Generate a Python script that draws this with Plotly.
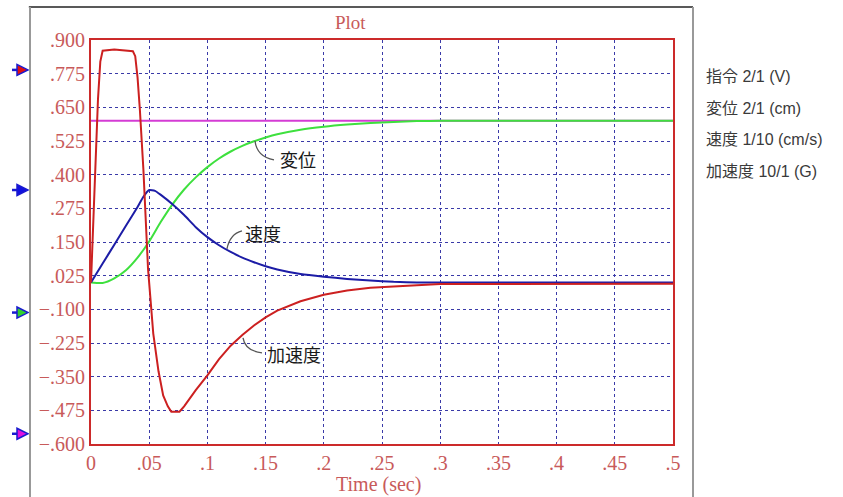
import plotly.graph_objects as go

# ---- data ----
t_cmd = [0.0, 0.5]
cmd = [0.6, 0.6]

t_disp = [0, 0.01, 0.02, 0.03, 0.04, 0.05, 0.06, 0.07, 0.08, 0.09, 0.10, 0.11, 0.12,
          0.13, 0.14, 0.15, 0.16, 0.18, 0.20, 0.22, 0.24, 0.26, 0.28, 0.30, 0.5]
disp = [0, -0.002, 0.015, 0.045, 0.092, 0.152, 0.225, 0.29, 0.345, 0.39, 0.428, 0.46, 0.486,
        0.507, 0.524, 0.538, 0.55, 0.567, 0.578, 0.586, 0.592, 0.596, 0.599, 0.6, 0.6]

t_vel = [0, 0.01, 0.02, 0.03, 0.04, 0.045, 0.05, 0.055, 0.06, 0.07, 0.08, 0.09, 0.10, 0.11,
         0.12, 0.13, 0.14, 0.15, 0.16, 0.18, 0.20, 0.22, 0.24, 0.26, 0.28, 0.5]
vel = [0, 0.07, 0.14, 0.21, 0.28, 0.318, 0.343, 0.34, 0.325, 0.29, 0.25, 0.205, 0.168, 0.138,
       0.113, 0.092, 0.075, 0.06, 0.048, 0.031, 0.021, 0.013, 0.007, 0.002, 0.0, 0.0]

t_acc = [0, 0.002, 0.004, 0.006, 0.008, 0.01, 0.02, 0.03, 0.036, 0.038, 0.04, 0.042, 0.045,
         0.049, 0.0535, 0.058, 0.062, 0.066, 0.069, 0.076, 0.08, 0.09, 0.10, 0.11, 0.12, 0.13,
         0.14, 0.15, 0.16, 0.18, 0.20, 0.22, 0.24, 0.26, 0.28, 0.30, 0.5]
acc = [0, 0.25, 0.5, 0.68, 0.82, 0.86, 0.865, 0.862, 0.858, 0.84, 0.76, 0.64, 0.42,
       0.05, -0.19, -0.33, -0.42, -0.46, -0.48, -0.48, -0.46, -0.40, -0.345, -0.285, -0.235, -0.195,
       -0.16, -0.13, -0.105, -0.07, -0.046, -0.03, -0.02, -0.015, -0.01, -0.006, -0.005]

y_ticks = [0.9 - 0.125 * i for i in range(13)]
y_ticktext = [".900", ".775", ".650", ".525", ".400", ".275", ".150", ".025",
              "\u2212.100", "\u2212.225", "\u2212.350", "\u2212.475", "\u2212.600"]
x_ticks = [0, 0.05, 0.1, 0.15, 0.2, 0.25, 0.3, 0.35, 0.4, 0.45, 0.5]
x_ticktext = ["0", ".05", ".1", ".15", ".2", ".25", ".3", ".35", ".4", ".45", ".5"]

legend_lines = ["指令 2/1 (V)", "変位 2/1 (cm)", "速度 1/10 (cm/s)", "加速度 10/1 (G)"]
curve_labels = ["変位", "速度", "加速度"]

# channel zero markers on the left (data y levels)
marker_y = [0.789, 0.343, -0.112, -0.562]
marker_fill = ["#e01010", "#1010e0", "#30d030", "#e010e0"]

RED = "#cc2a2a"
TXT_RED = "#c85a5a"

# plot area in pixels: x 91..673, y 40..444
def px_x(p):
    return (p - 91) / 582

def px_y(p):
    return (444 - p) / 404

fig = go.Figure()
fig.add_trace(go.Scatter(x=t_cmd, y=cmd, mode="lines", name="指令",
                         line=dict(color="#d43cd4", width=2)))
fig.add_trace(go.Scatter(x=t_disp, y=disp, mode="lines", name="変位",
                         line=dict(color="#3ee03e", width=2, shape="spline", smoothing=0.6)))
fig.add_trace(go.Scatter(x=t_vel, y=vel, mode="lines", name="速度",
                         line=dict(color="#1c1ca6", width=2, shape="spline", smoothing=0.5)))
fig.add_trace(go.Scatter(x=t_acc, y=acc, mode="lines", name="加速度",
                         line=dict(color="#cc2020", width=2)))

# left arrows (pixel-sized paths anchored at data y)
for yv, fc in zip(marker_y, marker_fill):
    fig.add_shape(type="path", xref="paper", yref="y",
                  xsizemode="pixel", ysizemode="pixel",
                  xanchor=px_x(17), yanchor=yv,
                  path="M -5,0 L 0,0", line=dict(color="#1a1ad0", width=2.5))
    fig.add_shape(type="path", xref="paper", yref="y",
                  xsizemode="pixel", ysizemode="pixel",
                  xanchor=px_x(17), yanchor=yv,
                  path="M 0,-5.5 L 11,0 L 0,5.5 Z", fillcolor=fc,
                  line=dict(color="#1a1ad0", width=1.5))

# leader lines
leaders = [
    "M 0.1409,0.525 Q 0.1426,0.466 0.1572,0.455",
    "M 0.1168,0.1245 Q 0.1194,0.180 0.1297,0.1913",
    "M 0.1306,-0.2057 Q 0.1323,-0.254 0.1469,-0.2614",
]
for p in leaders:
    fig.add_shape(type="path", path=p, xref="x", yref="y",
                  line=dict(color="#555555", width=1.3))

label_pos = [(0.1607, 0.4584), (0.1306, 0.1838), (0.1495, -0.265)]
for txt, (lx, ly) in zip(curve_labels, label_pos):
    fig.add_annotation(x=lx, y=ly, xref="x", yref="y", text=txt, showarrow=False,
                       xanchor="left", yanchor="middle",
                       font=dict(family="Noto Sans CJK JP", size=18, color="#1a1a1a"))

# legend text on right
for i, s in enumerate(legend_lines):
    fig.add_annotation(x=px_x(704), y=px_y(76.5 + 31.7 * i), xref="paper", yref="paper",
                       text=s, showarrow=False, xanchor="left", yanchor="middle",
                       font=dict(family="Liberation Sans, Noto Sans CJK JP", size=16, color="#3a3a3a"))

# x-axis title
fig.add_annotation(x=px_x(378), y=px_y(484), xref="paper", yref="paper",
                   text="Time (sec)", showarrow=False, xanchor="center", yanchor="middle",
                   font=dict(family="Liberation Serif", size=20, color=TXT_RED))
# title
fig.add_annotation(x=px_x(350), y=px_y(23), xref="paper", yref="paper",
                   text="Plot", showarrow=False, xanchor="center", yanchor="middle",
                   font=dict(family="Liberation Serif", size=19, color=TXT_RED))

# outer frame
x0p, x1p = px_x(30), px_x(693)
ytp, ybp = px_y(7), px_y(500)
fig.add_shape(type="line", xref="paper", yref="paper", x0=x0p - 0.002, x1=x1p, y0=ytp, y1=ytp,
              line=dict(color="#222222", width=1.5))
fig.add_shape(type="line", xref="paper", yref="paper", x0=x0p, x1=x0p, y0=ytp, y1=ybp,
              line=dict(color="#999999", width=2))
fig.add_shape(type="line", xref="paper", yref="paper", x0=x1p, x1=x1p, y0=ytp, y1=ybp,
              line=dict(color="#999999", width=2))

fig.update_layout(
    width=843, height=497,
    margin=dict(l=91, r=170, t=40, b=53),
    paper_bgcolor="white", plot_bgcolor="white",
    showlegend=False,
    xaxis=dict(range=[0, 0.5], tickvals=x_ticks, ticktext=x_ticktext,
               showgrid=True, gridcolor="#3a3aa8", griddash="dot", gridwidth=1,
               zeroline=False, showline=True, mirror=True, linecolor=RED, linewidth=2,
               ticks="", tickfont=dict(family="Liberation Serif", size=20, color=TXT_RED)),
    yaxis=dict(range=[-0.6, 0.9], tickvals=y_ticks, ticktext=y_ticktext,
               showgrid=True, gridcolor="#3a3aa8", griddash="dot", gridwidth=1,
               zeroline=False, showline=True, mirror=True, linecolor=RED, linewidth=2,
               ticks="", tickfont=dict(family="Liberation Serif", size=20, color=TXT_RED)),
)

fig.write_html("out.html")
